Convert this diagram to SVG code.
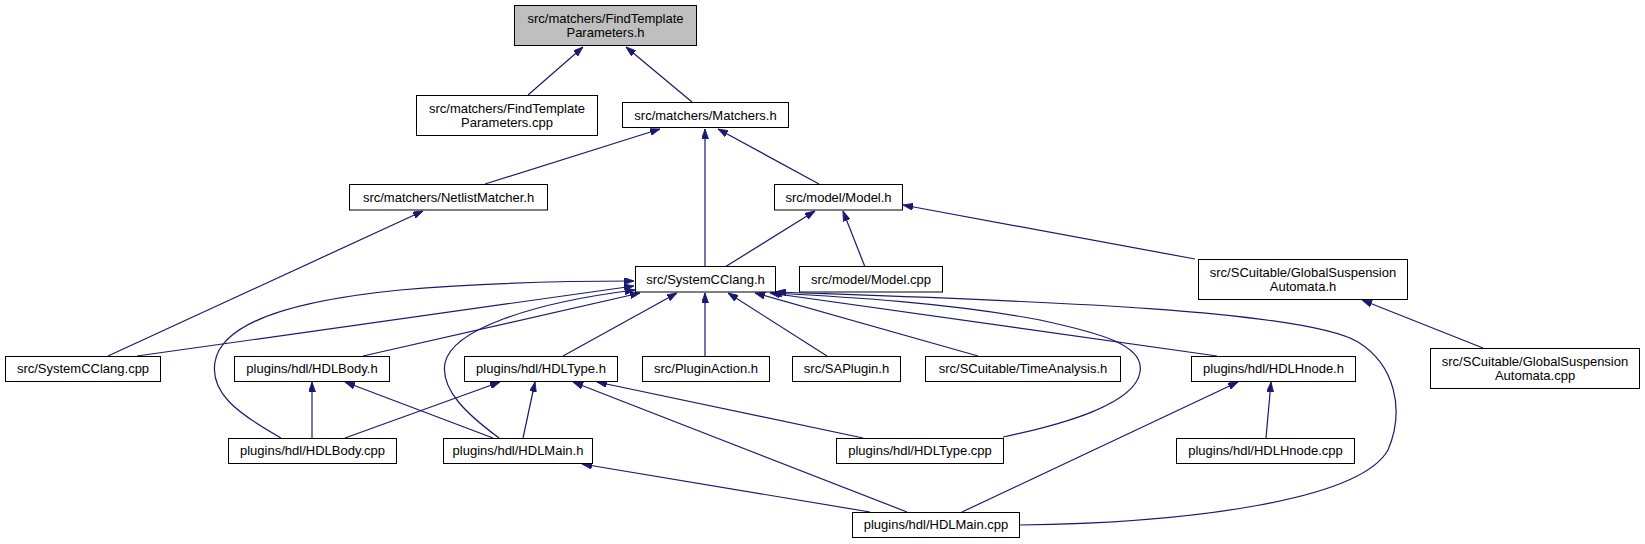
<svg xmlns="http://www.w3.org/2000/svg" width="1645" height="544" viewBox="0 0 1645 544">
<style>
.n rect{fill:#ffffff;stroke:#000000;stroke-width:1}
.n.root rect{fill:#bfbfbf}
.n text{font-family:"Liberation Sans",Arial,sans-serif;font-size:13px;fill:#000000;text-anchor:middle}
.e path{fill:none;stroke:#191970;stroke-width:1.2;marker-end:url(#ah)}
</style>
<defs>
<marker id="ah" viewBox="0 0 10 7" refX="10" refY="3.5" markerWidth="10" markerHeight="7" markerUnits="userSpaceOnUse" orient="auto">
<path d="M0,0 L10,3.5 L0,7 z" fill="#191970" stroke="#191970" stroke-width="0.8"/>
</marker>
</defs>
<rect x="0" y="0" width="1645" height="544" fill="#ffffff"/>
<g id="edges" class="e">
<path d="M528,95 L583,47"/>
<path d="M692,102 L626,47"/>
<path d="M485,184 L660,129"/>
<path d="M705,266 L705,129"/>
<path d="M819,184 L718,129"/>
<path d="M108,356 L423,211"/>
<path d="M725,267 L815,211"/>
<path d="M865,267 L843,211"/>
<path d="M1195,259 L903,205"/>
<path d="M1483,348 L1362,300"/>
<path d="M137,356 L634,286"/>
<path d="M363,356 L640,293"/>
<path d="M563,356 L677,293"/>
<path d="M705,356 L705,293"/>
<path d="M827,356 L728,293"/>
<path d="M978,356 L755,293"/>
<path d="M1217,356 L770,293"/>
<path d="M281,438 C235,412 210,392 215,362 C222,320 300,300 400,290 C470,284 560,281 634,281"/>
<path d="M499,438 C468,415 440,390 445,363 C452,330 530,303 635,290"/>
<path d="M1003,437 C1060,425 1135,405 1140,372 C1145,345 1100,333 1040,320 C950,303 850,297 772,293"/>
<path d="M1019,525 C1190,523 1360,500 1388,450 C1405,410 1395,365 1358,342 C1300,308 1000,300 776,292"/>
<path d="M312,438 L312,382"/>
<path d="M493,438 L345,382"/>
<path d="M345,438 L500,382"/>
<path d="M523,438 L535,382"/>
<path d="M863,438 L597,382"/>
<path d="M907,512 L573,382"/>
<path d="M870,512 L582,464"/>
<path d="M962,512 L1238,382"/>
<path d="M1266,438 L1271,382"/>
</g>
<g id="n_ftp_h" class="n root"><rect x="514.5" y="5.5" width="182" height="40"/><text x="605.5" y="23">src/matchers/FindTemplate</text><text x="605.5" y="37">Parameters.h</text></g>
<g id="n_ftp_cpp" class="n"><rect x="416.5" y="95.5" width="181" height="40"/><text x="507" y="113">src/matchers/FindTemplate</text><text x="507" y="127">Parameters.cpp</text></g>
<g id="n_matchers_h" class="n"><rect x="622.5" y="102.5" width="166" height="25"/><text x="705.5" y="119.5">src/matchers/Matchers.h</text></g>
<g id="n_netlist_h" class="n"><rect x="349.5" y="184.5" width="198" height="25.5"/><text x="448.5" y="201.5">src/matchers/NetlistMatcher.h</text></g>
<g id="n_model_h" class="n"><rect x="774.5" y="184.5" width="128" height="25.5"/><text x="838.5" y="201.5">src/model/Model.h</text></g>
<g id="n_scc_h" class="n"><rect x="635.5" y="266.5" width="140" height="25.5"/><text x="705.5" y="283.5">src/SystemCClang.h</text></g>
<g id="n_model_cpp" class="n"><rect x="799.5" y="266.5" width="143" height="25.5"/><text x="871" y="283.5">src/model/Model.cpp</text></g>
<g id="n_gsa_h" class="n"><rect x="1198.5" y="259.5" width="209" height="40"/><text x="1303" y="277">src/SCuitable/GlobalSuspension</text><text x="1303" y="291">Automata.h</text></g>
<g id="n_scc_cpp" class="n"><rect x="5.5" y="356.5" width="155" height="25"/><text x="83" y="373">src/SystemCClang.cpp</text></g>
<g id="n_hdlbody_h" class="n"><rect x="234.5" y="356.5" width="155" height="25"/><text x="312" y="373">plugins/hdl/HDLBody.h</text></g>
<g id="n_hdltype_h" class="n"><rect x="464.5" y="356.5" width="153" height="25"/><text x="541" y="373">plugins/hdl/HDLType.h</text></g>
<g id="n_pluginaction_h" class="n"><rect x="642.5" y="356.5" width="127" height="25"/><text x="706" y="373">src/PluginAction.h</text></g>
<g id="n_saplugin_h" class="n"><rect x="792.5" y="356.5" width="108" height="25"/><text x="846.5" y="373">src/SAPlugin.h</text></g>
<g id="n_timeanalysis_h" class="n"><rect x="925.5" y="356.5" width="195" height="25"/><text x="1023" y="373">src/SCuitable/TimeAnalysis.h</text></g>
<g id="n_hdlhnode_h" class="n"><rect x="1191.5" y="356.5" width="164" height="25"/><text x="1273.5" y="373">plugins/hdl/HDLHnode.h</text></g>
<g id="n_gsa_cpp" class="n"><rect x="1430.5" y="348.5" width="209" height="40"/><text x="1535" y="366">src/SCuitable/GlobalSuspension</text><text x="1535" y="380">Automata.cpp</text></g>
<g id="n_hdlbody_cpp" class="n"><rect x="228.5" y="438.5" width="168" height="25"/><text x="312.5" y="455">plugins/hdl/HDLBody.cpp</text></g>
<g id="n_hdlmain_h" class="n"><rect x="443.5" y="438.5" width="149" height="25"/><text x="518" y="455">plugins/hdl/HDLMain.h</text></g>
<g id="n_hdltype_cpp" class="n"><rect x="836.5" y="438.5" width="167" height="25"/><text x="920" y="455">plugins/hdl/HDLType.cpp</text></g>
<g id="n_hdlhnode_cpp" class="n"><rect x="1176.5" y="438.5" width="178" height="25"/><text x="1265.5" y="455">plugins/hdl/HDLHnode.cpp</text></g>
<g id="n_hdlmain_cpp" class="n"><rect x="852.5" y="512.5" width="167" height="25"/><text x="936" y="529">plugins/hdl/HDLMain.cpp</text></g>
</svg>
